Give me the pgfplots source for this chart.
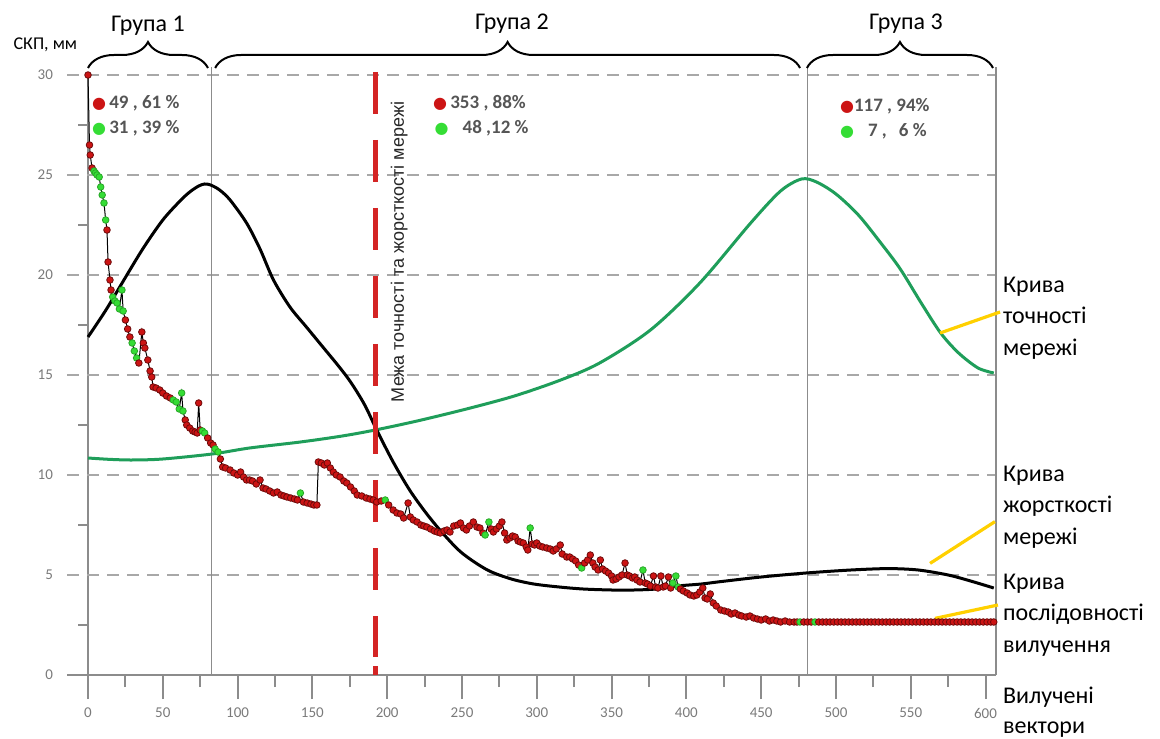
\documentclass[border=0pt]{standalone}
\usepackage{pgfplots}
\pgfplotsset{compat=1.18}
\usepackage{pgfplotstable}
\usepackage{fontspec}
\setmainfont{Carlito}
\newfontfamily\symfont{DejaVu Sans}
\newfontfamily\arialfont{Liberation Sans}
\usetikzlibrary{decorations.pathreplacing}

\definecolor{axisgray}{HTML}{8C8C8C}
\definecolor{tickgray}{HTML}{7A7A7A}
\definecolor{gridgray}{HTML}{A8A8A8}
\definecolor{statgray}{HTML}{555555}
\definecolor{accgreen}{HTML}{1F9E5A}
\definecolor{dotred}{HTML}{CC1414}
\definecolor{dotrededge}{HTML}{6E0A0A}
\definecolor{dotgreen}{HTML}{35DD35}
\definecolor{borderred}{HTML}{D42424}
\definecolor{leader}{HTML}{FFD000}

% extraction sequence: vector number, RMS error (mm), class (r = red, g = green)
\pgfplotstableread[row sep=\\]{
x y c\\
0 30.0 r\\ 1 26.5 r\\ 1.5 26.0 r\\ 2.7 25.35 r\\ 4 25.2 g\\ 5 25.1 g\\ 6 25.0 g\\ 7.5 24.9 g\\
8.5 24.4 g\\ 9.5 24.0 g\\ 10.7 23.6 g\\ 11.8 22.75 g\\ 12.7 22.25 r\\ 13.4 20.65 r\\ 14.7 19.75 r\\
15.4 19.25 r\\ 16.5 18.9 g\\ 18 18.7 g\\ 19.4 18.6 g\\ 21 18.3 g\\ 22.7 19.25 g\\ 23.5 18.2 g\\
25 17.75 r\\ 26.5 17.3 r\\ 28 16.9 r\\ 29.5 16.6 g\\ 31 16.2 g\\ 32.5 15.85 g\\ 34 15.6 r\\
36 17.15 r\\ 37 16.6 r\\ 38 16.35 r\\ 40 15.75 r\\ 41.5 15.2 r\\ 42.6 14.9 r\\ 43.5 14.4 r\\
45.5 14.35 r\\ 48 14.25 r\\ 50 14.1 r\\ 52.5 13.95 r\\ 55 13.85 r\\ 57 13.75 g\\ 59 13.65 g\\
61 13.3 g\\ 62.6 14.1 g\\ 63.5 13.2 g\\ 65 12.75 r\\ 66 12.5 r\\ 68 12.35 r\\ 70 12.2 r\\
71.6 12.15 r\\ 73 12.1 r\\ 74 13.6 r\\ 75 12.25 r\\ 76.5 12.2 g\\ 78 12.1 g\\ 80 11.85 r\\
82 11.6 r\\ 83.6 11.5 r\\
85 11.3 g\\ 87 11.15 g\\ 88.5 10.8 r\\ 90 10.4 r\\ 92 10.35 r\\ 95 10.25 r\\ 97.5 10.1 r\\
100 10.0 r\\ 102 10.15 r\\ 104 9.9 r\\ 106 9.75 r\\ 108 9.75 r\\ 110 9.7 r\\ 112.5 9.55 r\\
115 9.75 r\\ 117 9.35 r\\ 119 9.3 r\\ 121.5 9.2 r\\ 124 9.1 r\\ 126.5 9.15 r\\ 129 9.0 r\\
131 8.95 r\\ 133 8.9 r\\ 135.5 8.85 r\\ 138 8.8 r\\ 140 8.75 r\\ 142 9.1 g\\ 144 8.65 r\\
146.5 8.6 r\\ 149 8.55 r\\ 151 8.5 r\\ 153 8.5 r\\ 154 10.65 r\\ 156 10.6 r\\ 158 10.5 r\\
160 10.6 r\\ 162 10.35 r\\ 164 10.15 r\\ 166 10.0 r\\ 168.5 9.9 r\\ 171 9.7 r\\ 173 9.6 r\\
175.5 9.4 r\\ 178 9.2 r\\ 180 9.0 r\\ 183 8.95 r\\ 186 8.85 r\\ 188.5 8.8 r\\ 190.7 8.75 r\\
193 8.65 r\\ 196 8.7 r\\ 198.7 8.75 g\\ 201 8.5 r\\ 204 8.25 r\\ 206.5 8.1 r\\ 209 8.05 r\\
211 7.85 r\\ 214 8.6 r\\ 215.5 7.9 r\\ 217.5 7.75 r\\ 220 7.65 r\\ 222.5 7.5 r\\ 224.5 7.45 r\\
226.5 7.4 r\\ 229 7.3 r\\ 231.5 7.2 r\\ 233.5 7.15 r\\ 235.5 7.1 r\\ 238 7.2 r\\ 240 7.25 r\\
242 7.15 r\\ 244.5 7.45 r\\ 247 7.5 r\\ 249 7.6 r\\ 251 7.35 r\\ 253 7.25 r\\ 255 7.45 r\\
257.6 7.65 r\\ 260 7.4 r\\ 262 7.35 r\\ 264 7.1 r\\ 265.5 7.0 g\\ 268 7.65 g\\ 269.5 7.3 r\\
271 7.15 r\\ 273 7.3 r\\ 275 7.45 r\\ 276.7 7.65 r\\ 278.5 7.1 r\\ 280 6.75 r\\ 282 6.85 r\\
283.8 6.95 r\\ 285.6 6.9 r\\ 287.5 6.7 r\\ 289 6.65 r\\ 291 6.6 r\\ 293 6.4 r\\ 294 6.25 r\\
295.6 7.35 g\\ 297 6.55 r\\ 298.5 6.5 r\\ 300 6.6 r\\ 302 6.45 r\\ 304 6.4 r\\ 306.7 6.35 r\\
309 6.3 r\\ 311 6.2 r\\ 313 6.3 r\\ 315.7 6.5 r\\ 317 6.05 r\\ 320 5.9 r\\ 322 5.9 r\\
324 5.8 r\\ 326 5.7 r\\ 328 5.5 r\\ 330 5.35 g\\ 332 5.6 r\\ 334 5.75 r\\ 335.8 6.0 r\\
337.5 5.6 r\\ 339 5.4 r\\ 341 5.25 r\\ 342.5 5.75 r\\ 344 5.3 r\\ 346 5.2 r\\ 348 5.1 r\\
350 4.95 r\\ 351 4.75 r\\ 353 4.8 r\\ 355 4.9 r\\ 357 5.0 r\\ 359 5.6 r\\ 360.5 5.0 r\\
362 4.95 r\\ 364 4.85 r\\ 365.5 4.9 r\\ 367 4.75 r\\ 369 4.65 r\\ 371 5.25 g\\ 372.5 4.6 r\\
374 4.55 r\\ 376 4.45 r\\ 378 4.95 r\\ 379.5 4.4 r\\ 381 4.35 r\\ 383 4.95 r\\ 384.5 4.4 r\\
386 4.45 r\\ 388 4.9 r\\ 389.5 4.35 r\\ 391 4.6 g\\ 393 4.95 g\\ 394.5 4.4 g\\ 396 4.3 r\\
398 4.2 r\\ 400.5 4.1 r\\ 402.5 4.0 r\\ 405 3.95 r\\ 407 4.0 r\\ 409 4.15 r\\ 411 4.35 r\\
412.5 3.85 r\\ 414 3.8 r\\ 416 4.05 r\\ 418 3.6 r\\ 420 3.45 r\\ 423 3.25 r\\ 425.5 3.2 r\\
428 3.15 r\\ 430 3.05 r\\ 432.5 3.1 r\\ 435 3.0 r\\ 437 2.95 r\\ 440 2.9 r\\ 442.5 2.95 r\\
445 2.85 r\\ 447.5 2.8 r\\ 450 2.75 r\\ 453 2.8 r\\ 455.5 2.7 r\\ 458 2.75 r\\ 460.5 2.7 r\\
463 2.65 r\\ 466 2.7 r\\ 469 2.65 r\\ 472 2.65 r\\ 474 2.65 r\\ 476 2.65 g\\ 478.5 2.65 r\\
481 2.65 r\\
483.5 2.65 r\\ 486 2.65 g\\ 488.5 2.65 r\\ 491 2.65 r\\ 493.5 2.65 r\\ 496 2.65 r\\ 498.5 2.65 r\\
501 2.65 r\\ 503.5 2.65 r\\ 506 2.65 r\\ 508.5 2.65 r\\ 511 2.65 r\\ 513.5 2.65 r\\ 516 2.65 r\\
518.5 2.65 r\\ 521 2.65 r\\ 523.5 2.65 r\\ 526 2.65 r\\ 528.5 2.65 r\\ 531 2.65 r\\ 533.5 2.65 r\\
536 2.65 r\\ 538.5 2.65 r\\ 541 2.65 r\\ 543.5 2.65 r\\ 546 2.65 r\\ 548.5 2.65 r\\ 551 2.65 r\\
553.5 2.65 r\\ 556 2.65 r\\ 558.5 2.65 r\\ 561 2.65 r\\ 563.5 2.65 r\\ 566 2.65 r\\ 568.5 2.65 r\\
571 2.65 r\\ 573.5 2.65 r\\ 576 2.65 r\\ 578.5 2.65 r\\ 581 2.65 r\\ 583.5 2.65 r\\ 586 2.65 r\\
588.5 2.65 r\\ 591 2.65 r\\ 593.5 2.65 r\\ 596 2.65 r\\ 598.5 2.65 r\\ 601 2.65 r\\ 603.5 2.65 r\\
605.5 2.65 r\\
}\seqdata

% network rigidity curve
\pgfplotstableread[row sep=\\]{
x y\\
0 16.9\\ 12 18.25\\ 24 19.75\\ 37 21.35\\ 50 22.75\\ 61.5 23.7\\ 68 24.15\\ 74 24.45\\
78 24.55\\ 82 24.5\\ 88 24.25\\ 95 23.75\\ 106 22.6\\ 115 21.3\\ 124 19.75\\ 135 18.4\\
146 17.4\\ 157 16.4\\ 168 15.4\\ 176 14.6\\ 185 13.5\\ 193 12.25\\ 204 10.65\\ 215 9.25\\
226 8.1\\ 237 7.1\\ 250 6.1\\ 267 5.25\\ 283 4.8\\ 298 4.55\\ 315 4.4\\ 331 4.3\\
350 4.25\\ 365 4.25\\ 380 4.3\\ 394 4.45\\ 410 4.55\\ 423 4.67\\ 450 4.9\\ 480 5.1\\
510 5.25\\ 535 5.32\\ 555 5.25\\ 575 5.0\\ 590 4.7\\ 605.5 4.35\\
}\rigidity

% network accuracy curve
\pgfplotstableread[row sep=\\]{
x y\\
0 10.85\\ 15 10.78\\ 30 10.75\\ 50 10.8\\ 83 11.05\\ 108 11.35\\ 142 11.65\\ 170 11.95\\
192 12.25\\ 220 12.7\\ 253 13.3\\ 285 13.95\\ 316 14.75\\ 342 15.6\\ 376 17.25\\ 409 19.6\\
443 22.6\\ 463 24.2\\ 477 24.8\\ 487 24.65\\ 500 24.05\\ 515 23.0\\ 530 21.6\\ 543 20.3\\
557 18.6\\ 570 17.1\\ 582 16.1\\ 595 15.35\\ 605.5 15.1\\
}\accuracy

\begin{document}
\begin{tikzpicture}
\path[use as bounding box] (-44pt,-31.5pt) rectangle (536pt,337.5pt);
\begin{axis}[
  at={(0,0)}, anchor=south west,
  scale only axis, width=454pt, height=300pt,
  xmin=0, xmax=607, ymin=0, ymax=30,
  clip=false,
  axis lines*=left,
  axis line style={axisgray, line width=1pt},
  xtick={0,50,...,600}, minor xtick={25,75,...,575},
  ytick={0,5,...,30},
  tick align=outside,
  major tick length=12pt, minor tick length=6pt,
  xtick style={axisgray, line width=1pt},
  ytick style={draw=none},
  ticklabel style={font=\fontsize{7.5}{9}\selectfont, text=tickgray},
  /pgf/number format/assume math mode=true,
  yticklabel style={xshift=-2pt},
  xticklabel style={yshift=-1pt},
]
% dashed horizontal guides, reaching a little left of the axis
\pgfplotsinvokeforeach{5,10,...,30}{
  \draw[gridgray, line width=1pt, dash pattern=on 6pt off 4pt] (axis cs:-14,#1) -- (axis cs:607,#1);
}
\draw[axisgray, line width=1pt] (axis cs:-14,0) -- (axis cs:0,0);
\pgfplotsinvokeforeach{2.5,7.5,...,27.5}{
  \draw[axisgray, line width=1pt] (axis cs:0,#1) -- ++(-5pt,0);
}
% group boundaries
\draw[axisgray, line width=0.9pt] (axis cs:82.5,0) -- (axis cs:82.5,30.4);
\draw[axisgray, line width=0.9pt] (axis cs:481,0) -- (axis cs:481,30.4);
\draw[axisgray, line width=0.9pt] (axis cs:607,0) -- (axis cs:607,30.4);

% curves
\addplot[accgreen, line width=1.5pt, smooth, no marks] table[x=x, y=y] {\accuracy};
\addplot[black, line width=1.5pt, smooth, no marks] table[x=x, y=y] {\rigidity};
\addplot[scatter, only marks, scatter src=explicit symbolic,
  scatter/classes={
    r={mark=*, mark size=1.65pt, draw=dotrededge, fill=dotred},
    g={mark=*, mark size=1.65pt, draw=dotgreen!75!black, fill=dotgreen}}]
  table[x=x, y=y, meta=c] {\seqdata};
\addplot[black, line width=0.5pt, no marks] table[x=x, y=y] {\seqdata};

% accuracy / rigidity border
\draw[borderred, line width=2.5pt, dash pattern=on 21pt off 13pt] (axis cs:192,30.15) -- (axis cs:192,0.9);
\draw[borderred, line width=2.5pt] (axis cs:192,0.45) -- (axis cs:192,0);
\node[rotate=90, font=\arialfont\fontsize{9}{11}\selectfont, text=black!85] at (axis cs:208,21.15)
  {Межа точності та жорсткості мережі};

% group braces
\draw[decorate, decoration={brace, amplitude=13pt}, line width=1pt] (axis cs:0,30.35) -- (axis cs:80.2,30.35);
\draw[decorate, decoration={brace, amplitude=13pt}, line width=1pt] (axis cs:85,30.35) -- (axis cs:476,30.35);
\draw[decorate, decoration={brace, amplitude=13pt}, line width=1pt] (axis cs:480.6,30.35) -- (axis cs:605,30.35);
\node[font=\fontsize{12}{14}\selectfont] at (axis cs:40.1,32.45) {Група 1};
\node[font=\fontsize{12}{14}\selectfont] at (axis cs:283.4,32.55) {Група 2};
\node[font=\fontsize{12}{14}\selectfont] at (axis cs:546.8,32.55) {Група 3};
\node[font=\fontsize{9}{11}\selectfont] at (axis cs:-28.5,31.5) {СКП, мм};

% counts per group
\node[anchor=west, inner sep=0pt, font=\fontsize{9.5}{11}\selectfont\bfseries, text=statgray] at (axis cs:2.5,28.6)
  {{\symfont\fontsize{8}{10}\selectfont\color{dotred}●}\,49 , 61 \%};
\node[anchor=west, inner sep=0pt, font=\fontsize{9.5}{11}\selectfont\bfseries, text=statgray] at (axis cs:2.5,27.35)
  {{\symfont\fontsize{8}{10}\selectfont\color{dotgreen}●}\,31 , 39 \%};
\node[anchor=west, inner sep=0pt, font=\fontsize{9.5}{11}\selectfont\bfseries, text=statgray] at (axis cs:230.5,28.6)
  {{\symfont\fontsize{8}{10}\selectfont\color{dotred}●}\,353 , 88\%};
\node[anchor=west, inner sep=0pt, font=\fontsize{9.5}{11}\selectfont\bfseries, text=statgray] at (axis cs:231.5,27.35)
  {{\symfont\fontsize{8}{10}\selectfont\color{dotgreen}●}\hspace{7pt}48 ,12 \%};
\node[anchor=west, inner sep=0pt, font=\fontsize{9.5}{11}\selectfont\bfseries, text=statgray] at (axis cs:502.5,28.45)
  {{\symfont\fontsize{8}{10}\selectfont\color{dotred}●}117 , 94\%};
\node[anchor=west, inner sep=0pt, font=\fontsize{9.5}{11}\selectfont\bfseries, text=statgray] at (axis cs:502.5,27.2)
  {{\symfont\fontsize{8}{10}\selectfont\color{dotgreen}●}\hspace{7pt}7 ,\hspace{6pt}6 \%};

% curve captions with leaders
\draw[leader, line width=1.6pt] (axis cs:569.6,17.1) -- (axis cs:609.7,18.15);
\draw[leader, line width=1.6pt] (axis cs:562.9,5.58) -- (axis cs:606.3,7.67);
\draw[leader, line width=1.6pt] (axis cs:566.2,2.83) -- (axis cs:608.3,3.5);
\node[anchor=west, inner sep=0pt, align=left, font=\fontsize{12}{15.75}\selectfont] at (axis cs:611.5,17.85)
  {Крива\\точності\\мережі};
\node[anchor=west, inner sep=0pt, align=left, font=\fontsize{12}{15.75}\selectfont] at (axis cs:611.5,8.4)
  {Крива\\жорсткості\\мережі};
\node[anchor=west, inner sep=0pt, align=left, font=\fontsize{12}{15.75}\selectfont] at (axis cs:611.5,3.0)
  {Крива\\послідовності\\вилучення};
\node[anchor=west, inner sep=0pt, align=left, font=\fontsize{12}{15}\selectfont] at (axis cs:611.5,-1.85)
  {Вилучені\\вектори};
\end{axis}
\end{tikzpicture}
\end{document}
